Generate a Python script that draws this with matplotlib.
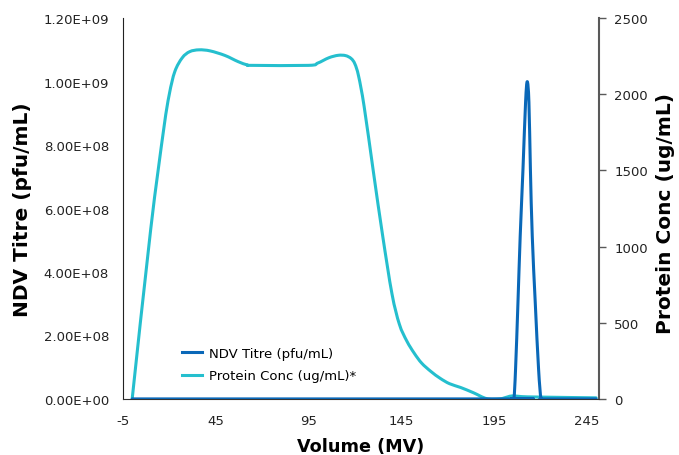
import numpy as np
import matplotlib
matplotlib.use("Agg")
import matplotlib.pyplot as plt
from matplotlib.path import Path
from matplotlib.patches import PathPatch
from matplotlib.lines import Line2D

plt.rcParams['axes.unicode_minus'] = False

# protein concentration (ug/mL) vs volume
prot_x = [0, 10, 17, 20, 23, 27, 31, 36, 42, 50, 57, 62, 65, 95, 100, 106, 111,
          115, 118, 120, 122, 125, 130, 135, 140, 144, 148, 152, 156, 161, 166,
          171, 177, 184, 191, 198, 202, 205, 210, 220, 250]
prot_y = [0, 1115, 1772, 2000, 2150, 2240, 2280, 2292, 2285, 2255, 2215, 2193,
          2190, 2190, 2205, 2240, 2256, 2254, 2235, 2200, 2120, 1920, 1490, 1070,
          690, 490, 380, 300, 235, 180, 135, 100, 75, 40, 2, 0, 12, 20, 15, 12, 7]

# NDV titre (pfu/mL) vs volume
ndv_x = [0, 200, 204.5, 205.7, 206.6, 207.9, 209.1, 210.6, 212.0, 212.9, 213.8,
         214.6, 215.6, 217.2, 219.0, 220.3, 221.5, 250]
ndv_y = [0, 0, 0, 0, 9.4e7, 3.05e8, 5.13e8, 7.24e8, 9.35e8, 1.0e9, 9.35e8,
         7.24e8, 5.13e8, 3.05e8, 9.4e7, 0, 0, 0]

blue = '#0A68B8'
cyan = '#25BFCE'
grey = '#595959'


def smooth_line(ax, xs, ys, color):
    # excel style smoothed line: bezier through the points
    p = np.column_stack([xs, ys]).astype(float)
    verts = [p[0]]
    codes = [Path.MOVETO]
    n = len(p)
    for i in range(n - 1):
        p0 = p[i - 1] if i > 0 else p[i]
        p3 = p[i + 2] if i + 2 < n else p[i + 1]
        c1 = p[i] + (p[i + 1] - p0) / 6
        c2 = p[i + 1] - (p3 - p[i]) / 6
        verts += [c1, c2, p[i + 1]]
        codes += [Path.CURVE4] * 3
    patch = PathPatch(Path(verts, codes), facecolor='none', edgecolor=color,
                      lw=2.2, capstyle='round', joinstyle='round', zorder=3)
    ax.add_patch(patch)


fig = plt.figure(figsize=(6.79, 4.56), dpi=100)
ax = fig.add_axes([0.181, 0.123, 0.701, 0.835])
ax2 = ax.twinx()

smooth_line(ax2, prot_x, prot_y, cyan)
smooth_line(ax, ndv_x, ndv_y, blue)

ax.set_zorder(ax2.get_zorder() + 1)
ax.patch.set_visible(False)

ax.set_xlim(-5, 251.5)
ax.set_ylim(0, 1.2e9)
ax2.set_ylim(0, 2500)
ax.set_xticks([-5, 45, 95, 145, 195, 245])
ax.set_yticks(np.arange(0, 1.21e9, 2e8))
ax.set_yticklabels(['%.2E' % v for v in np.arange(0, 1.21e9, 2e8)])
ax2.set_yticks([0, 500, 1000, 1500, 2000, 2500])

ax.tick_params(axis='x', length=0, pad=11, labelsize=9.5, colors='#222222')
ax.tick_params(axis='y', length=0, pad=10, labelsize=9.5, colors='#222222')
ax2.tick_params(axis='y', length=5, width=1, color=grey, pad=6, labelsize=9.5,
                labelcolor='#222222')

for a in (ax, ax2):
    a.spines['top'].set_visible(False)
ax.spines['right'].set_visible(False)
ax.spines['left'].set_color('#222222')
ax.spines['bottom'].set_color('#333333')
ax2.spines['left'].set_visible(False)
ax2.spines['bottom'].set_visible(False)
ax2.spines['right'].set_color(grey)
ax2.spines['right'].set_linewidth(1.5)

ax.set_xlabel('Volume (MV)', fontsize=12.7, fontweight='bold')
ax.xaxis.set_label_coords(0.5, -0.1)
ax.set_ylabel('NDV Titre (pfu/mL)', fontsize=14.5, fontweight='bold')
ax.yaxis.set_label_coords(-0.192, 0.5)
ax2.set_ylabel('Protein Conc (ug/mL)', fontsize=14.5, fontweight='bold')
ax2.yaxis.set_label_coords(1.12, 0.49)

handles = [Line2D([], [], color=blue, lw=2.2), Line2D([], [], color=cyan, lw=2.2)]
ax.legend(handles, ['NDV Titre (pfu/mL)', 'Protein Conc (ug/mL)*'],
          loc='lower left', bbox_to_anchor=(0.1, 0.012), frameon=False,
          fontsize=9.5, handlelength=1.5, handletextpad=0.5, labelspacing=0.75)

fig.savefig('out.png', dpi=100)
